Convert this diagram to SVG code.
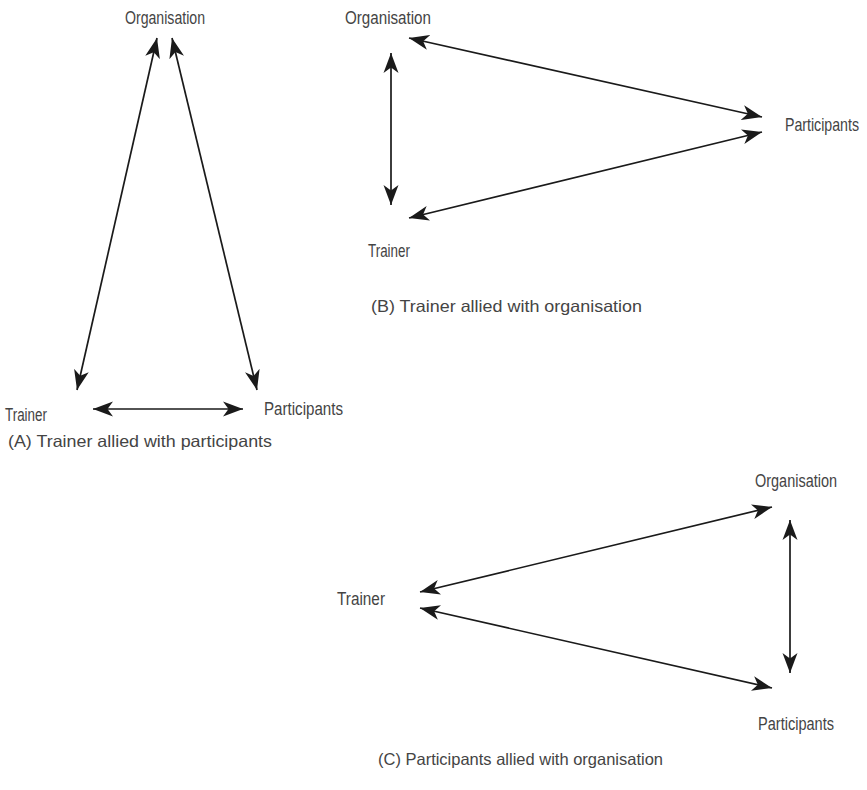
<svg xmlns="http://www.w3.org/2000/svg" width="867" height="790" viewBox="0 0 867 790">
<style>
.lbl{font-family:"Liberation Sans",Arial,sans-serif;font-size:17.5px;fill:#444;}
.cap{font-family:"Liberation Sans",Arial,sans-serif;font-size:16.5px;fill:#444;}
.c{stroke:#1a1a1a;stroke-width:1.7;fill:none;marker-start:url(#ah);marker-end:url(#ah);}
</style>
<defs>
<marker id="ah" markerUnits="userSpaceOnUse" markerWidth="22" markerHeight="16" refX="20" refY="8" orient="auto-start-reverse" viewBox="0 0 22 16">
<path d="M0,0.5 L20,8 L0,15.5 L5.5,8 Z" fill="#1a1a1a"/>
</marker>
</defs>
<rect width="867" height="790" fill="#fff"/>
<g id="connectors">
<line class="c" x1="157" y1="38" x2="77" y2="390"/>
<line class="c" x1="172" y1="38" x2="257" y2="390"/>
<line class="c" x1="93" y1="409" x2="243" y2="409"/>
<line class="c" x1="409" y1="38" x2="762" y2="117"/>
<line class="c" x1="391" y1="53" x2="391" y2="205"/>
<line class="c" x1="409" y1="218" x2="762" y2="132"/>
<line class="c" x1="420" y1="592" x2="772" y2="507"/>
<line class="c" x1="420" y1="608" x2="772" y2="688"/>
<line class="c" x1="790" y1="520" x2="790" y2="673"/>
</g>
<g id="A-organisation"><text class="lbl" x="125" y="24" textLength="80" lengthAdjust="spacingAndGlyphs">Organisation</text></g>
<g id="A-trainer"><text class="lbl" x="5" y="421" textLength="42" lengthAdjust="spacingAndGlyphs">Trainer</text></g>
<g id="A-participants"><text class="lbl" x="264" y="415" textLength="79" lengthAdjust="spacingAndGlyphs">Participants</text></g>
<g id="A-caption"><text class="cap" x="8" y="447" textLength="264" lengthAdjust="spacingAndGlyphs">(A) Trainer allied with participants</text></g>
<g id="B-organisation"><text class="lbl" x="345" y="24" textLength="86" lengthAdjust="spacingAndGlyphs">Organisation</text></g>
<g id="B-trainer"><text class="lbl" x="368" y="257" textLength="42" lengthAdjust="spacingAndGlyphs">Trainer</text></g>
<g id="B-participants"><text class="lbl" transform="translate(785,131) scale(0.81,1)" x="0" y="0">Participants</text></g>
<g id="B-caption"><text class="cap" x="371" y="312" textLength="271" lengthAdjust="spacingAndGlyphs">(B) Trainer allied with organisation</text></g>
<g id="C-organisation"><text class="lbl" x="755" y="487" textLength="82" lengthAdjust="spacingAndGlyphs">Organisation</text></g>
<g id="C-trainer"><text class="lbl" x="337" y="605" textLength="48" lengthAdjust="spacingAndGlyphs">Trainer</text></g>
<g id="C-participants"><text class="lbl" x="758" y="730" textLength="76" lengthAdjust="spacingAndGlyphs">Participants</text></g>
<g id="C-caption"><text class="cap" x="378" y="765" textLength="285" lengthAdjust="spacingAndGlyphs">(C) Participants allied with organisation</text></g>
</svg>
